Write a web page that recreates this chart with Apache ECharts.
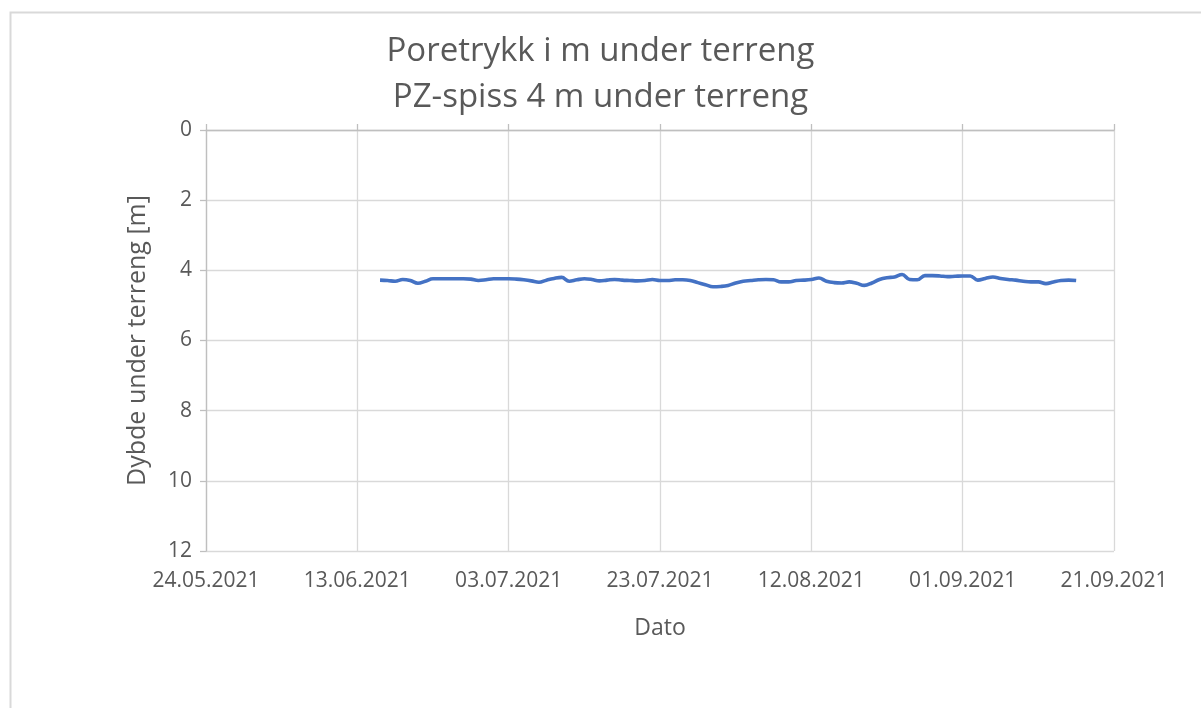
<!DOCTYPE html>
<html>
<head>
<meta charset="utf-8">
<script src="https://cdn.jsdelivr.net/npm/echarts@6/dist/echarts.min.js"></script>
<style>
  html, body { margin: 0; padding: 0; background: #ffffff; }
  #chart { width: 1201px; height: 708px; }
</style>
</head>
<body>
<div id="chart"></div>
<script>
// Piezometer PZ-spiss, 4 m below ground: daily pore pressure level (m below terrain)
const titleLines = ['Poretrykk i m under terreng', 'PZ-spiss 4 m under terreng'];
const xAxisTitle = 'Dato';
const yAxisTitle = 'Dybde under terreng [m]';

// x axis spans 24.05.2021 – 21.09.2021 with a tick every 20 days
const axisStart = '2021-05-24';
const axisEnd = '2021-09-21';
const tickDays = 20;

// y axis (depth, drawn downward)
const depthMin = 0;
const depthMax = 12;
const depthStep = 2;

// first reading, then one reading per day
const firstReading = '2021-06-16';
const depths = [
  4.28, 4.29, 4.31, 4.26, 4.29, 4.37, 4.31, 4.24, 4.24, 4.24,
  4.24, 4.24, 4.25, 4.29, 4.27, 4.24, 4.24, 4.24, 4.25, 4.27,
  4.30, 4.34, 4.28, 4.23, 4.20, 4.31, 4.27, 4.24, 4.26, 4.30,
  4.28, 4.26, 4.28, 4.29, 4.30, 4.29, 4.26, 4.29, 4.29, 4.27,
  4.27, 4.29, 4.35, 4.41, 4.47, 4.46, 4.43, 4.36, 4.31, 4.29,
  4.27, 4.26, 4.27, 4.33, 4.33, 4.29, 4.28, 4.26, 4.22, 4.31,
  4.35, 4.36, 4.33, 4.37, 4.43, 4.36, 4.26, 4.21, 4.19, 4.12,
  4.26, 4.27, 4.15, 4.15, 4.16, 4.18, 4.17, 4.16, 4.16, 4.28,
  4.23, 4.19, 4.23, 4.26, 4.28, 4.31, 4.33, 4.33, 4.38, 4.33,
  4.29, 4.28, 4.29
];

const DAY = 86400000;
function toUTC(s) {
  const p = s.split('-').map(Number);
  return Date.UTC(p[0], p[1] - 1, p[2]);
}
const base = toUTC(axisStart);
const spanDays = Math.round((toUTC(axisEnd) - base) / DAY);
const firstOffset = Math.round((toUTC(firstReading) - base) / DAY);

// x values are days counted from the axis start date
const seriesData = depths.map((v, i) => [firstOffset + i, v]);

function fmtDate(dayOffset) {
  const d = new Date(base + dayOffset * DAY);
  const dd = String(d.getUTCDate()).padStart(2, '0');
  const mm = String(d.getUTCMonth() + 1).padStart(2, '0');
  return dd + '.' + mm + '.' + d.getUTCFullYear();
}

const textColor = '#595959';
const gridColor = '#d9d9d9';
const fontFamily = '"Open Sans", Roboto, sans-serif';

const chart = echarts.init(document.getElementById('chart'), null, { renderer: 'canvas' });

chart.setOption({
  backgroundColor: '#ffffff',
  animation: false,
  graphic: [{
    type: 'rect',
    left: 8, top: 10,
    shape: { width: 1300, height: 800 },
    style: { fill: 'none', stroke: '#d9d9d9', lineWidth: 2 },
    silent: true,
    z: -10
  }],
  title: {
    text: titleLines.join('\n'),
    left: 'center',
    top: 24,
    textStyle: {
      color: textColor,
      fontFamily: fontFamily,
      fontWeight: 'normal',
      fontSize: 33,
      lineHeight: 46
    }
  },
  grid: { left: 206, right: 87, top: 130, bottom: 157, containLabel: false },
  xAxis: [{
    type: 'value',
    min: 0,
    max: spanDays,
    interval: tickDays,
    position: 'bottom',
    name: xAxisTitle,
    nameLocation: 'middle',
    nameGap: 66,
    nameTextStyle: { color: textColor, fontFamily: fontFamily, fontSize: 23 },
    axisLine: { show: false },
    axisTick: { show: false },
    axisLabel: {
      color: textColor, fontFamily: fontFamily, fontSize: 21, margin: 20,
      formatter: v => fmtDate(v)
    },
    splitLine: { show: true, lineStyle: { color: gridColor, width: 1.3 } }
  }, {
    type: 'value',
    min: 0,
    max: spanDays,
    interval: tickDays,
    position: 'top',
    axisLine: { show: true, lineStyle: { color: '#bfbfbf', width: 1.3 } },
    axisTick: { show: true, length: 6, lineStyle: { color: '#bfbfbf', width: 1.3 } },
    axisLabel: { show: false },
    splitLine: { show: false }
  }],
  yAxis: {
    type: 'value',
    inverse: true,
    min: depthMin,
    max: depthMax,
    interval: depthStep,
    name: yAxisTitle,
    nameLocation: 'middle',
    nameGap: 56,
    nameRotate: 90,
    nameTextStyle: { color: textColor, fontFamily: fontFamily, fontSize: 25 },
    axisLine: { show: true, lineStyle: { color: '#bfbfbf', width: 1.3 } },
    axisTick: { show: true, length: 6, lineStyle: { color: '#bfbfbf', width: 1.3 } },
    axisLabel: { color: textColor, fontFamily: fontFamily, fontSize: 21, margin: 14 },
    splitLine: { show: true, lineStyle: { color: gridColor, width: 1.3 } }
  },
  series: [{
    type: 'line',
    data: seriesData,
    xAxisIndex: 0,
    smooth: 0.4,
    showSymbol: false,
    lineStyle: { color: '#4472c4', width: 3.6 },
    itemStyle: { color: '#4472c4' }
  }]
});
</script>
</body>
</html>
